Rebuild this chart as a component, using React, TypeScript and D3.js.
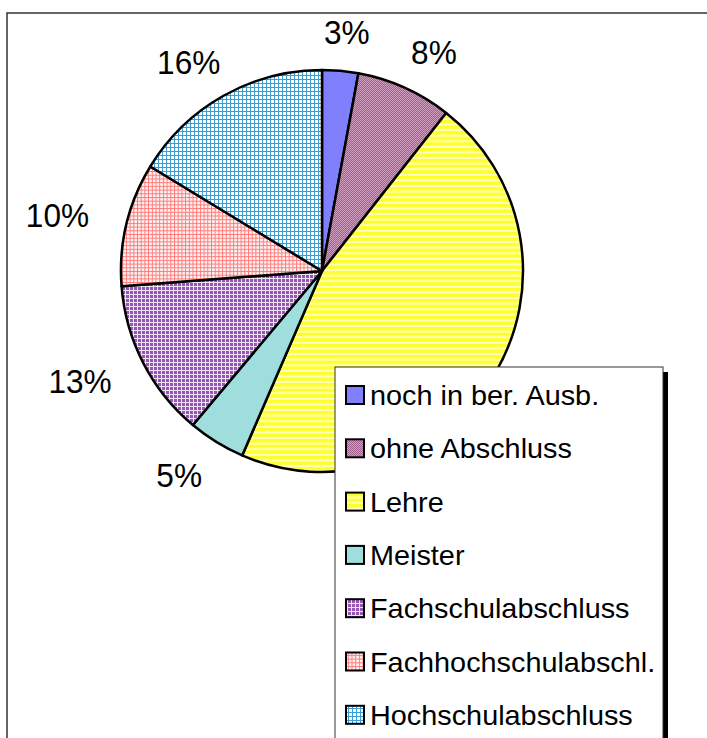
import React from "react";
import * as d3 from "d3";

const categories = [
  "noch in ber. Ausb.",
  "ohne Abschluss",
  "Lehre",
  "Meister",
  "Fachschulabschluss",
  "Fachhochschulabschl.",
  "Hochschulabschluss",
];
const values = [2.9, 7.7, 45.9, 4.6, 12.7, 9.9, 16.3];
const fills = [
  "#8080ff",
  "url(#pMauve)",
  "url(#pYellow)",
  "url(#pTeal)",
  "url(#pPurple)",
  "url(#pRed)",
  "url(#pBlue)",
];

const W = 707;
const H = 738;
const cx = 322;
const cy = 271;
const R = 201;
const labelRx = 272;
const labelRy = 240;
const labelFont = 34;
const labelScaleX = 0.93;
const legendFont = 28;
const legendScaleX = 1.03;

const legendX = 335;
const legendY = 367;
const legendW = 328;
const legendH = 420;
const rowStep = 53.3;
const firstRow = 395;

export default function App() {
  const total = d3.sum(values);
  const pie = d3.pie<number>().sort(null).value((d) => d)(values);
  const arc = d3.arc<d3.PieArcDatum<number>>().innerRadius(0).outerRadius(R);
  const fmt = (v: number) => `${Math.round((v / total) * 100)}%`;

  const labels = pie
    .map((p, i) => {
      const a = (p.startAngle + p.endAngle) / 2;
      return {
        x: cx + labelRx * Math.sin(a),
        y: cy - labelRy * Math.cos(a),
        txt: fmt(values[i]),
      };
    })
    // labels hidden beneath the legend box are not shown
    .filter(
      (l) =>
        !(
          l.x > legendX &&
          l.x < legendX + legendW &&
          l.y > legendY &&
          l.y < legendY + legendH
        )
    );

  return (
    <svg
      width={W}
      height={H}
      style={{ position: "absolute", left: 0, top: 0, display: "block" }}
      fontFamily="'Liberation Sans', Arial, sans-serif"
    >
      <defs>
        <pattern id="pMauve" width="2" height="2" patternUnits="userSpaceOnUse">
          <rect width="2" height="2" fill="#cf9ebf" />
          <rect width="1" height="1" fill="#a0628c" />
          <rect x="1" y="1" width="1" height="1" fill="#a0628c" />
        </pattern>
        <pattern id="pYellow" width="5.6" height="5.6" patternUnits="userSpaceOnUse">
          <rect width="5.6" height="5.6" fill="#ffff30" />
          <rect y="3.6" width="5.6" height="2" fill="#ffffc0" />
        </pattern>
        <pattern id="pTeal" width="4" height="4" patternUnits="userSpaceOnUse">
          <rect width="4" height="4" fill="#a0dede" />
        </pattern>
        <pattern id="pPurple" width="4" height="4" patternUnits="userSpaceOnUse">
          <rect width="4" height="4" fill="#eee4f4" />
          <rect width="3" height="3" fill="#9558b2" />
        </pattern>
        <pattern id="pRed" width="3.7" height="3.7" patternUnits="userSpaceOnUse">
          <rect width="3.7" height="3.7" fill="#fff4f4" />
          <rect width="3.7" height="1" fill="#ff7a7a" />
          <rect width="1" height="3.7" fill="#ff7a7a" />
        </pattern>
        <pattern id="pBlue" width="4" height="4" patternUnits="userSpaceOnUse">
          <rect width="4" height="4" fill="#ffffff" />
          <rect width="4" height="1" fill="#3a9fd4" />
          <rect width="1" height="4" fill="#3a9fd4" />
        </pattern>
      </defs>

      <rect x={0} y={0} width={W} height={H} fill="#ffffff" />
      <rect
        x={7}
        y={13}
        width={W + 20}
        height={H + 20}
        fill="none"
        stroke="#333"
        strokeWidth={1.5}
      />

      <g transform={`translate(${cx},${cy})`}>
        {pie.map((p, i) => (
          <path
            key={categories[i]}
            d={arc(p) || ""}
            fill={fills[i]}
            stroke="#000"
            strokeWidth={2.5}
            strokeLinejoin="round"
          />
        ))}
      </g>

      {labels.map((l, i) => (
        <text
          key={"lab" + i}
          transform={`translate(${l.x},${l.y}) scale(${labelScaleX},1)`}
          textAnchor="middle"
          dominantBaseline="central"
          fontSize={labelFont}
          fill="#000"
        >
          {l.txt}
        </text>
      ))}

      <g>
        <rect x={legendX + 5} y={legendY + 5} width={legendW} height={legendH} fill="#000" />
        <rect
          x={legendX}
          y={legendY}
          width={legendW}
          height={legendH}
          fill="#fff"
          stroke="#333"
          strokeWidth={1}
        />
        {categories.map((c, i) => {
          const yc = firstRow + i * rowStep;
          return (
            <g key={"leg" + c}>
              <rect
                x={legendX + 11}
                y={yc - 9}
                width={18}
                height={18}
                fill={fills[i]}
                stroke="#000"
                strokeWidth={2}
              />
              <text
                transform={`translate(${legendX + 35},${yc + 10}) scale(${legendScaleX},1)`}
                fontSize={legendFont}
                fill="#000"
              >
                {c}
              </text>
            </g>
          );
        })}
      </g>
    </svg>
  );
}
